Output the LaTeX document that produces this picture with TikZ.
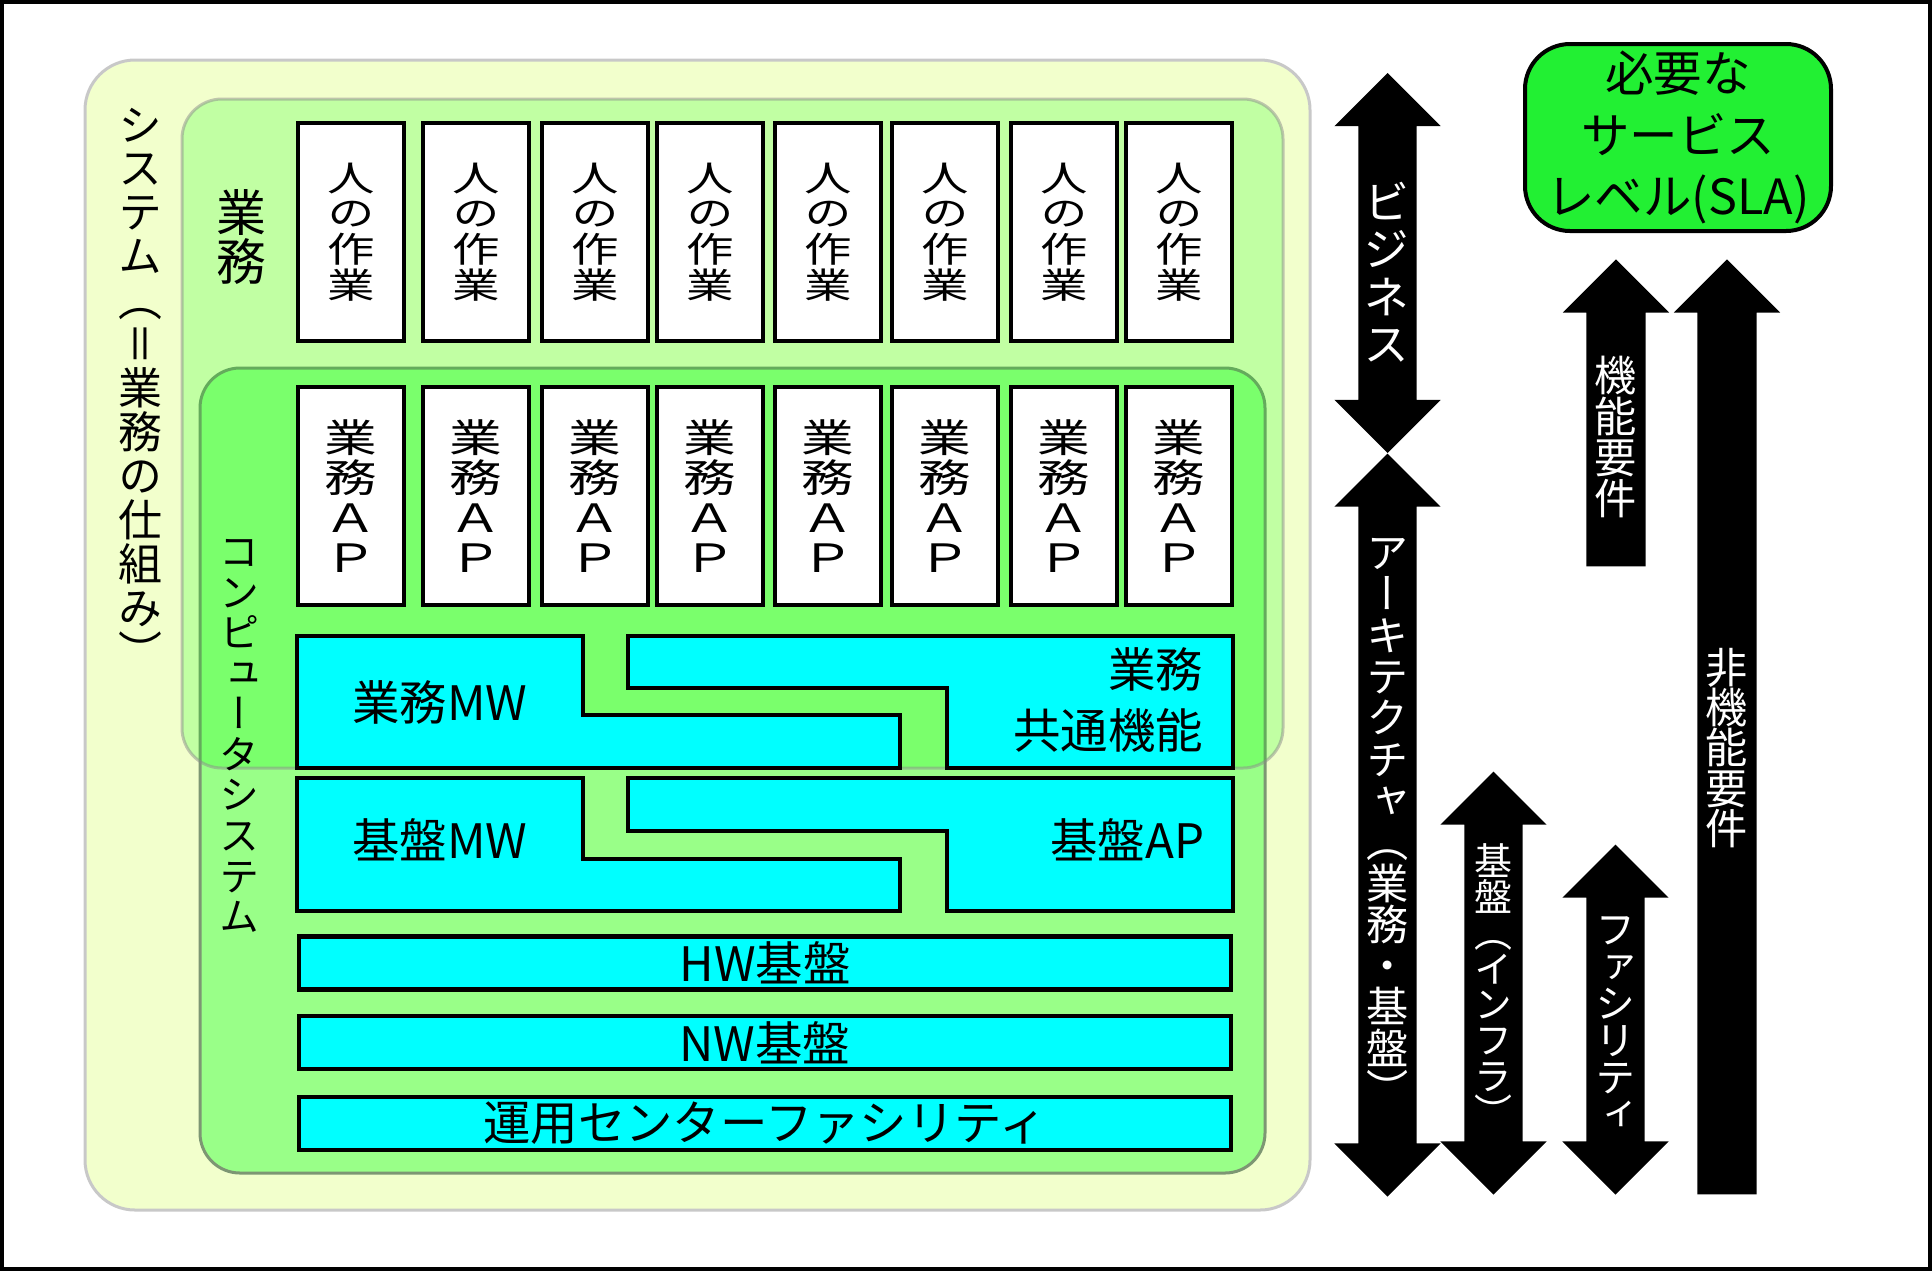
\documentclass[tikz,border=0pt]{standalone}
\usepackage{fontspec}
\setmainfont{Noto Sans CJK JP}
\newfontfamily\tatefont[RawFeature=+vert]{Noto Sans CJK JP}
\newfontfamily\tatewide[RawFeature=+vert,FakeStretch=1.35]{Noto Sans CJK JP}
\usepackage{tikz}
\usetikzlibrary{shapes.arrows}
\definecolor{sysyellow}{RGB}{242,255,204}
\definecolor{sysborder}{RGB}{200,200,200}
\definecolor{compgreen}{RGB}{153,255,136}
\definecolor{compborder}{RGB}{125,150,115}
\definecolor{slagreen}{RGB}{34,240,51}
\definecolor{mwcyan}{RGB}{0,255,255}
\lineskiplimit=-1000pt

\begin{document}
\begin{tikzpicture}[x=0.1mm, y=-0.1mm,
    outerframe/.style={draw=black, line width=0.4mm},
    panel/.style={rounded corners=4mm, line width=0.3mm},
    workbox/.style={rectangle, draw=black, fill=white, line width=0.45mm,
                    minimum width=10.6mm, minimum height=21.8mm, inner sep=0pt,
                    align=center, font=\tatewide\fontsize{10}{10.2}\selectfont},
    appbox/.style={workbox, font=\tatewide\fontsize{11.1}{11.4}\selectfont},
    mwshape/.style={draw=black, fill=mwcyan, line width=0.45mm},
    mwtext/.style={inner sep=0pt, font=\fontsize{13.5}{17.1}\selectfont},
    layerbox/.style={rectangle, mwshape, mwtext,
                     minimum width=93.2mm, minimum height=5.3mm},
    slabox/.style={rectangle, rounded corners=4.5mm, draw=black, line width=0.4mm,
                   fill=slagreen, minimum width=30.6mm, minimum height=18.7mm,
                   align=center, inner sep=0pt, font=\fontsize{13.8}{17.4}\selectfont},
    tate/.style={align=center, inner sep=0pt},
    wtate/.style={tate, text=white},
    dblarr/.style={double arrow, fill=black, rotate=90, inner xsep=0pt,
                   inner ysep=2.85mm, double arrow head extend=2.4mm},
    sglarr/.style={single arrow, fill=black, rotate=90, anchor=tail, inner xsep=0pt,
                   inner ysep=2.9mm, single arrow head extend=2.35mm},
]
\useasboundingbox (0,0) rectangle (1932,1271);
\draw[outerframe] (2,2) rectangle (1930,1269);

% System / computer system / business panels
\draw[panel, rounded corners=5mm, draw=sysborder, fill=sysyellow] (85,60) rectangle (1310,1210);
\draw[panel, draw=compborder, fill=compgreen] (200,368) rectangle (1265,1173);
\draw[panel, draw=black!45, draw opacity=0.5, fill=green, fill opacity=0.2] (182,99) rectangle (1283,768);

\node[tate, font=\tatefont\fontsize{12.5}{12.5}\selectfont] (systemlabel) at (140,388)
  {シ\\ス\\テ\\ム\\（\\＝\\業\\務\\の\\仕\\組\\み\\）};
\node[tate, font=\tatefont\fontsize{14.2}{13.7}\selectfont] (gyomulabel) at (241,237) {業\\務};
\node[tate, font=\tatefont\fontsize{11.4}{11.55}\selectfont] (complabel) at (240,736)
  {コ\\ン\\ピ\\ュ\\ー\\タ\\シ\\ス\\テ\\ム};

% Human work
\node[workbox] (work1) at (351,232) {人\\の\\作\\業};
\node[workbox] (work2) at (476,232) {人\\の\\作\\業};
\node[workbox] (work3) at (595,232) {人\\の\\作\\業};
\node[workbox] (work4) at (710,232) {人\\の\\作\\業};
\node[workbox] (work5) at (828,232) {人\\の\\作\\業};
\node[workbox] (work6) at (945,232) {人\\の\\作\\業};
\node[workbox] (work7) at (1064,232) {人\\の\\作\\業};
\node[workbox] (work8) at (1179,232) {人\\の\\作\\業};

% Business AP
\node[appbox] (app1) at (351,496) {業\\務\\Ａ\\Ｐ};
\node[appbox] (app2) at (476,496) {業\\務\\Ａ\\Ｐ};
\node[appbox] (app3) at (595,496) {業\\務\\Ａ\\Ｐ};
\node[appbox] (app4) at (710,496) {業\\務\\Ａ\\Ｐ};
\node[appbox] (app5) at (828,496) {業\\務\\Ａ\\Ｐ};
\node[appbox] (app6) at (945,496) {業\\務\\Ａ\\Ｐ};
\node[appbox] (app7) at (1064,496) {業\\務\\Ａ\\Ｐ};
\node[appbox] (app8) at (1179,496) {業\\務\\Ａ\\Ｐ};

% Middleware layers
\filldraw[mwshape] (297,636) -- (583,636) -- (583,715) -- (900,715) -- (900,768) -- (297,768) -- cycle;
\filldraw[mwshape] (628,636) -- (1233,636) -- (1233,768) -- (947,768) -- (947,688) -- (628,688) -- cycle;
\node[mwtext] (bizmw) at (440,702) {業務MW};
\node[mwtext, anchor=east, align=right] (common) at (1204,700) {業務\\共通機能};

\filldraw[mwshape] (297,778) -- (583,778) -- (583,859) -- (900,859) -- (900,911) -- (297,911) -- cycle;
\filldraw[mwshape] (628,778) -- (1233,778) -- (1233,911) -- (947,911) -- (947,831) -- (628,831) -- cycle;
\node[mwtext] (basemw) at (440,840) {基盤MW};
\node[mwtext, anchor=east] (baseap) at (1205,840) {基盤AP};

\node[layerbox] (hw) at (765,963) {HW基盤};
\node[layerbox] (nw) at (765,1042.5) {NW基盤};
\node[layerbox] (facility) at (765,1123.5) {運用センターファシリティ};

% SLA and requirement arrows
\node[slabox] (sla) at (1678,137.5) {必要な\\サービス\\レベル(SLA)};

\node[dblarr, minimum height=38mm] (bizarrow) at (1387.5,263) {};
\node[dblarr, minimum height=74.3mm] (archarrow) at (1387.5,825) {};
\node[dblarr, minimum height=42.3mm] (infraarrow) at (1493.5,983) {};
\node[dblarr, minimum height=35mm] (facilarrow) at (1615.5,1019.5) {};
\node[sglarr, minimum height=30.7mm] (funcarrow) at (1616,567) {};
\node[sglarr, minimum height=93.5mm] (nfuncarrow) at (1727,1195) {};

\node[wtate, font=\tatefont\fontsize{13.1}{13.5}\selectfont] (biztext) at (1387,272) {ビ\\ジ\\ネ\\ス};
\node[wtate, font=\tatefont\fontsize{12}{11.75}\selectfont] (archtext) at (1388,822)
  {ア\\ー\\キ\\テ\\ク\\チ\\ャ\\（\\業\\務\\・\\基\\盤\\）};
\node[wtate, font=\tatefont\fontsize{10.8}{10.2}\selectfont] (infratext) at (1493,985)
  {基\\盤\\（\\イ\\ン\\フ\\ラ\\）};
\node[wtate, font=\tatefont\fontsize{11.4}{10.5}\selectfont] (facilitytext) at (1616,1023)
  {フ\\ァ\\シ\\リ\\テ\\ィ};
\node[wtate, font=\tatefont\fontsize{12}{11.7}\selectfont] (functext) at (1616,437) {機\\能\\要\\件};
\node[wtate, font=\tatefont\fontsize{12}{11.5}\selectfont] (nfunctext) at (1727,748) {非\\機\\能\\要\\件};

\end{tikzpicture}
\end{document}
